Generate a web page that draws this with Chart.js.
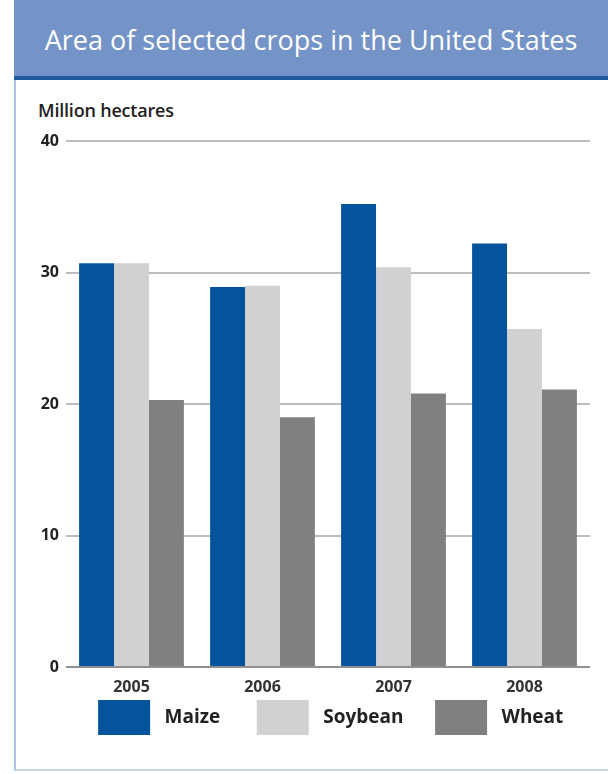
<!DOCTYPE html>
<html>
<head>
<meta charset="utf-8">
<script src="https://cdn.jsdelivr.net/npm/chart.js@4/dist/chart.umd.min.js"></script>
<style>
  html, body { margin: 0; padding: 0; background: #fff; }
  body { width: 608px; height: 774px; position: relative; overflow: hidden; font-family: 'Open Sans', sans-serif; }
  .frame { position: absolute; left: 14px; top: 0; width: 594px; height: 771px; border-left: 2px solid #a9c3e4; border-bottom: 2px solid #c9d6e8; box-sizing: border-box; }
  .header { position: absolute; left: 14px; top: 0; width: 594px; height: 76px; background: #7493c6; border-bottom: 4px solid #1f5a9e; color: #fff; font-size: 27px; font-weight: 400; text-align: center; line-height: 80px; }
  .unit { position: absolute; left: 38px; top: 98px; font-size: 18px; font-weight: 600; color: #222; letter-spacing: -0.2px; }
  .wrap { position: absolute; left: 16px; top: 80px; width: 592px; height: 690px; }
</style>
</head>
<body>
<div class="frame"></div>
<div class="header">Area of selected crops in the United States</div>
<div class="unit">Million hectares</div>
<div class="wrap"><canvas id="chart"></canvas></div>
<script>
const years = ['2005', '2006', '2007', '2008']
const maize = [30.7, 28.9, 35.2, 32.2]
const soybean = [30.7, 29.0, 30.4, 25.7]
const wheat = [20.3, 19.0, 20.8, 21.1]
const yTicks = [0, 10, 20, 30, 40]

const tickFont = { family: 'Open Sans, sans-serif', size: 16, weight: '700' }
// extra space after each legend label, in space characters
const legendTrail = [7, 6, 5]

new Chart(document.getElementById('chart'), {
  type: 'bar',
  data: {
    labels: years,
    datasets: [
      { label: 'Maize', data: maize, backgroundColor: '#03549c' },
      { label: 'Soybean', data: soybean, backgroundColor: '#d1d1d3' },
      { label: 'Wheat', data: wheat, backgroundColor: '#808083' }
    ]
  },
  options: {
    responsive: true,
    maintainAspectRatio: false,
    animation: false,
    datasets: {
      bar: { categoryPercentage: 0.8, barPercentage: 1.0 }
    },
    layout: { padding: { top: 61, right: 18, left: 0, bottom: 25 } },
    plugins: {
      tooltip: { enabled: false },
      legend: {
        position: 'bottom',
        align: 'end',
        labels: {
          boxWidth: 52,
          boxHeight: 35,
          padding: 2,
          color: '#222',
          font: { family: 'Open Sans, sans-serif', size: 19, weight: '700' },
          generateLabels: (chart) => {
            const items = Chart.defaults.plugins.legend.labels.generateLabels(chart)
            items.forEach((item, i) => {
              item.text = ' ' + item.text + ' '.repeat(legendTrail[i])
            })
            return items
          }
        }
      }
    },
    scales: {
      x: {
        afterFit: (scale) => { scale.height = 31 },
        grid: { display: false, drawTicks: false },
        border: { display: false },
        ticks: { color: '#333', font: tickFont, padding: 11 }
      },
      y: {
        min: 0,
        max: 40,
        afterBuildTicks: (scale) => { scale.ticks = yTicks.map(v => ({ value: v })) },
        afterFit: (scale) => { scale.width = 50 },
        grid: {
          color: (ctx) => ctx.tick && ctx.tick.value === 0 ? '#8f8f8f' : '#bdbdbd',
          lineWidth: 2,
          drawTicks: false
        },
        border: { display: false },
        ticks: { color: '#222', font: tickFont, padding: 7 }
      }
    }
  }
})
</script>
</body>
</html>
